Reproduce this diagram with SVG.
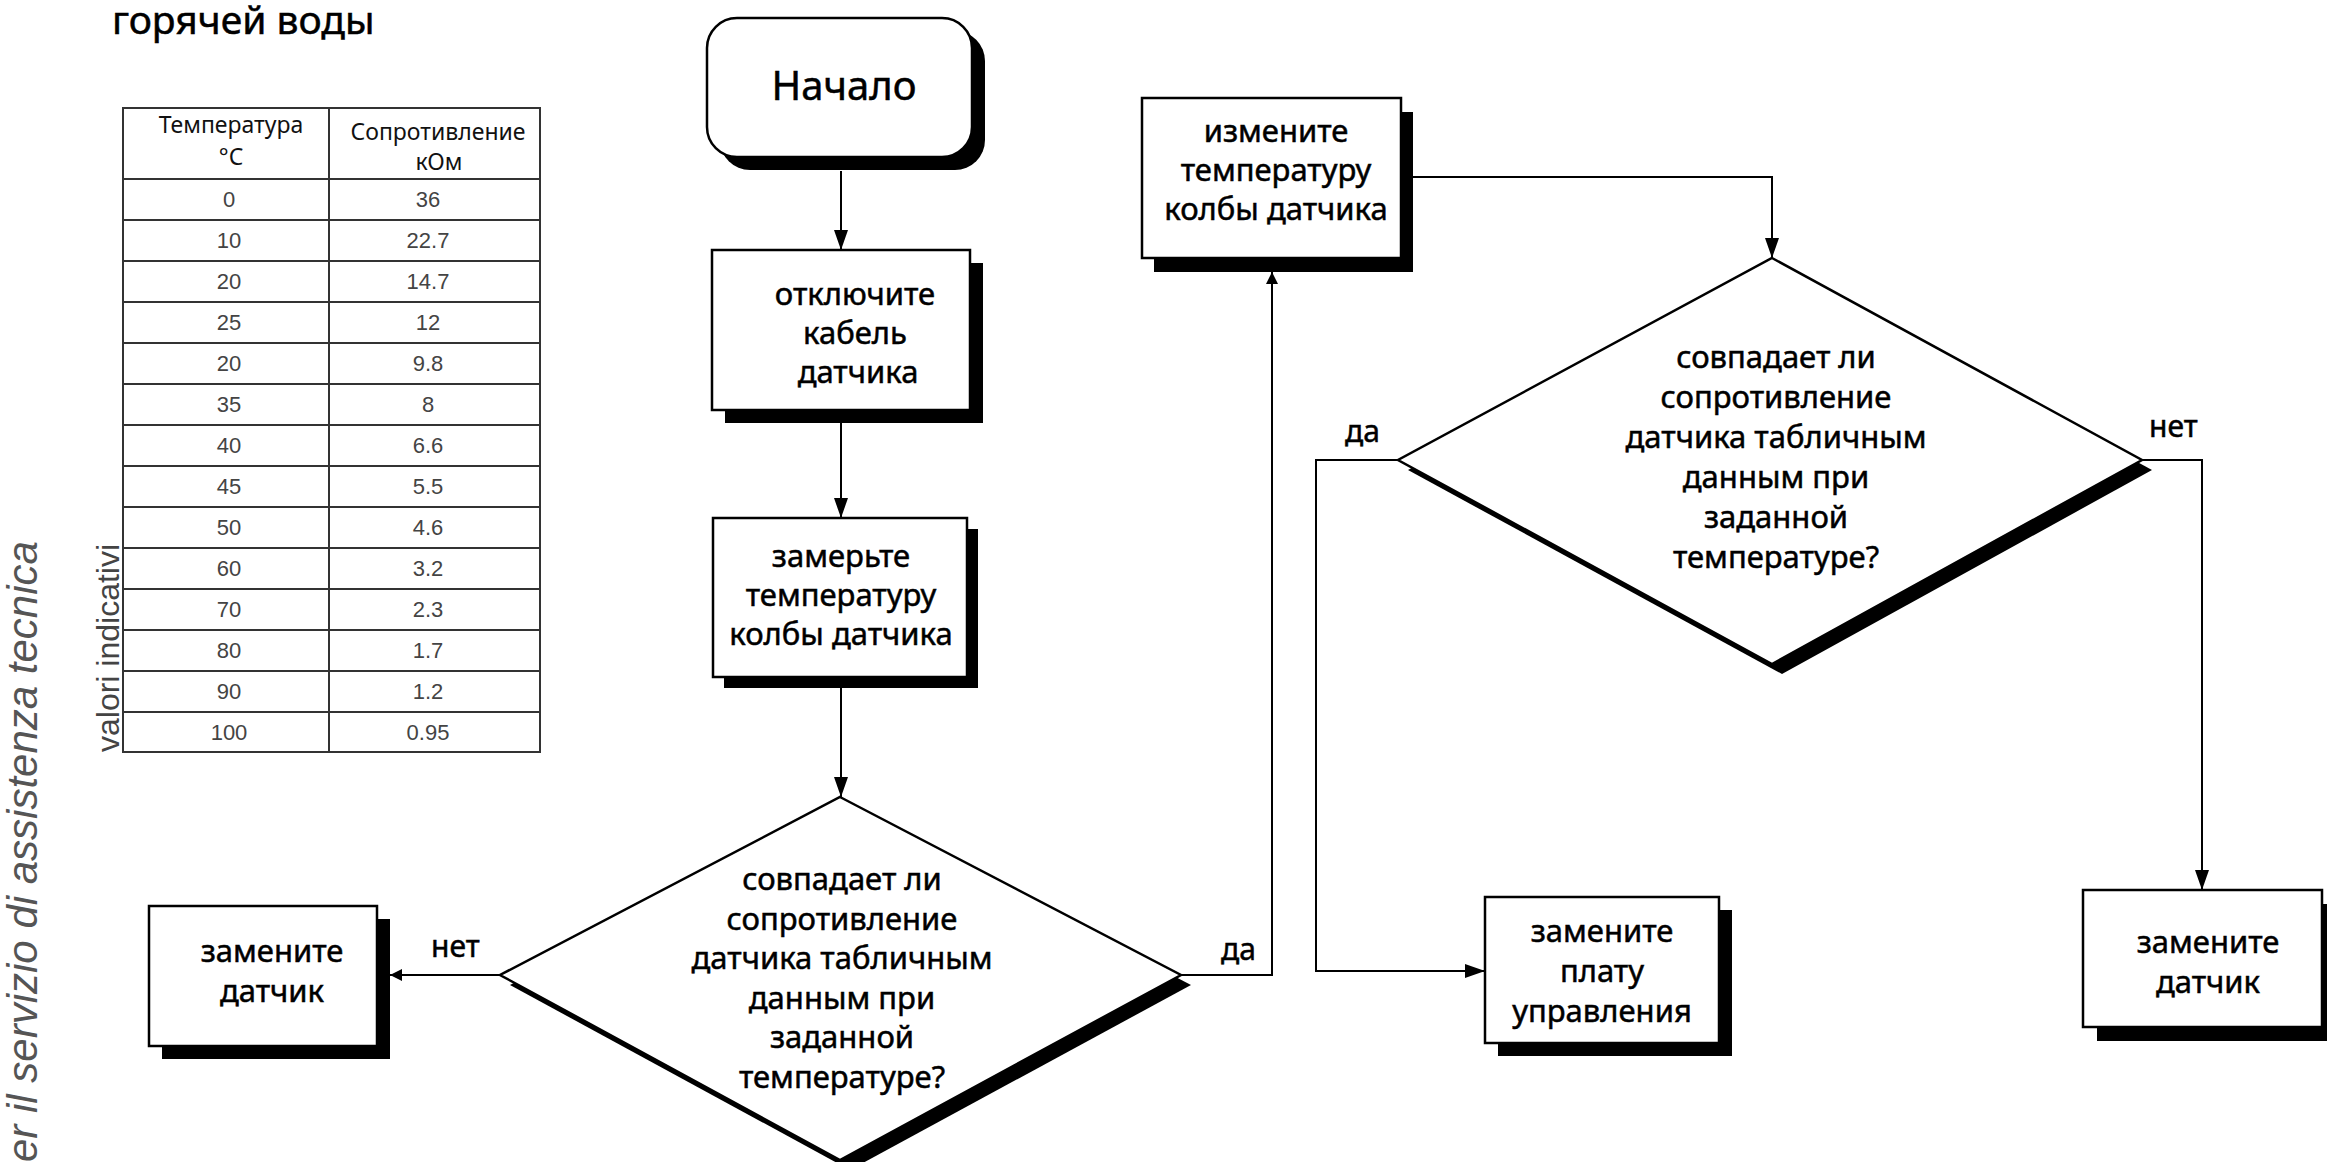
<svg xmlns="http://www.w3.org/2000/svg" width="2327" height="1162" viewBox="0 0 2327 1162">
<defs>
<style>
.t{font-family:"Noto Sans","DejaVu Sans",sans-serif;fill:#000;stroke:#000;stroke-width:0.5;text-anchor:middle}
.box{font-size:31px}
.dia{font-size:31px}
.lbl{font-family:"Noto Sans","DejaVu Sans",sans-serif;font-size:30px;fill:#000;stroke:#000;stroke-width:0.5}
.num{font-family:"Liberation Sans",Arial,sans-serif;font-size:22px;fill:#444;text-anchor:middle}
.hdr{font-family:"Noto Sans","DejaVu Sans",sans-serif;font-size:23px;fill:#111;text-anchor:middle}
.node{fill:#fff;stroke:#000;stroke-width:2.5}
.shadow{fill:#000;stroke:none}
.conn{fill:none;stroke:#000;stroke-width:2}
.grid{stroke:#333;stroke-width:2;fill:none}
</style>
<marker id="arr" markerUnits="userSpaceOnUse" markerWidth="20" markerHeight="14" viewBox="0 0 20 14" refX="20" refY="7" orient="auto">
<path d="M0,0 L20,7 L0,14 z" fill="#000"/>
</marker>
<marker id="arrs" markerUnits="userSpaceOnUse" markerWidth="12" markerHeight="12" viewBox="0 0 12 12" refX="12" refY="6" orient="auto">
<path d="M0,0 L12,6 L0,12 z" fill="#000"/>
</marker>
</defs>
<rect width="2327" height="1162" fill="#fff"/>

<!-- side texts -->
<text x="37" y="1162" transform="rotate(-90 37 1162)" font-family="Liberation Sans, Arial, sans-serif" font-style="italic" font-size="42" fill="#555">er il servizio di assistenza tecnica</text>
<text x="119" y="752" transform="rotate(-90 119 752)" font-family="Liberation Sans, Arial, sans-serif" font-size="32" fill="#444">valori indicativi</text>

<text x="112" y="34" font-family="Noto Sans, DejaVu Sans, sans-serif" font-size="39" fill="#000" stroke="#000" stroke-width="0.5">горячей воды</text>

<!-- table -->
<g id="table">
<rect class="grid" x="123" y="108" width="417" height="644"/>
<line class="grid" x1="329" y1="108" x2="329" y2="752"/>
<path class="grid" d="M123,179H540 M123,220H540 M123,261H540 M123,302H540 M123,343H540 M123,384H540 M123,425H540 M123,466H540 M123,507H540 M123,548H540 M123,589H540 M123,630H540 M123,671H540 M123,712H540"/>
<text class="hdr" x="231" y="133">Температура</text>
<text class="hdr" x="231" y="165">°C</text>
<text class="hdr" x="438" y="140">Сопротивление</text>
<text class="hdr" x="439" y="170">кОм</text>
<text class="num" x="229" y="207">0</text><text class="num" x="428" y="207">36</text>
<text class="num" x="229" y="248">10</text><text class="num" x="428" y="248">22.7</text>
<text class="num" x="229" y="289">20</text><text class="num" x="428" y="289">14.7</text>
<text class="num" x="229" y="330">25</text><text class="num" x="428" y="330">12</text>
<text class="num" x="229" y="371">20</text><text class="num" x="428" y="371">9.8</text>
<text class="num" x="229" y="412">35</text><text class="num" x="428" y="412">8</text>
<text class="num" x="229" y="453">40</text><text class="num" x="428" y="453">6.6</text>
<text class="num" x="229" y="494">45</text><text class="num" x="428" y="494">5.5</text>
<text class="num" x="229" y="535">50</text><text class="num" x="428" y="535">4.6</text>
<text class="num" x="229" y="576">60</text><text class="num" x="428" y="576">3.2</text>
<text class="num" x="229" y="617">70</text><text class="num" x="428" y="617">2.3</text>
<text class="num" x="229" y="658">80</text><text class="num" x="428" y="658">1.7</text>
<text class="num" x="229" y="699">90</text><text class="num" x="428" y="699">1.2</text>
<text class="num" x="229" y="740">100</text><text class="num" x="428" y="740">0.95</text>
</g>

<!-- connectors -->
<g id="connectors">
<path class="conn" d="M841,171 L841,250" marker-end="url(#arr)"/>
<path class="conn" d="M841,423 L841,518" marker-end="url(#arr)"/>
<path class="conn" d="M841,688 L841,797" marker-end="url(#arr)"/>
<path class="conn" d="M500,975 L390,975" marker-end="url(#arrs)"/>
<path class="conn" d="M1181,975 L1272,975 L1272,272" marker-end="url(#arrs)"/>
<path class="conn" d="M1413,177 L1772,177 L1772,258" marker-end="url(#arr)"/>
<path class="conn" d="M1398,460 L1316,460 L1316,971 L1485,971" marker-end="url(#arr)"/>
<path class="conn" d="M2142,460 L2202,460 L2202,890" marker-end="url(#arr)"/>
<text class="lbl" x="431" y="957">нет</text>
<text class="lbl" x="1221" y="960">да</text>
<text class="lbl" x="1345" y="442">да</text>
<text class="lbl" x="2149" y="437">нет</text>
</g>

<g id="start">
<rect class="shadow" x="720" y="31" width="265" height="139" rx="30"/>
<rect class="node" x="707" y="18" width="265" height="139" rx="30"/>
<text class="t" x="844" y="100" font-size="40">Начало</text>
</g>

<g id="disconnect">
<rect class="shadow" x="725" y="263" width="258" height="160"/>
<rect class="node" x="712" y="250" width="258" height="160"/>
<text class="t box" x="855" y="305">отключите</text>
<text class="t box" x="855" y="344">кабель</text>
<text class="t box" x="858" y="383">датчика</text>
</g>

<g id="measure">
<rect class="shadow" x="724" y="529" width="254" height="159"/>
<rect class="node" x="713" y="518" width="254" height="159"/>
<text class="t box" x="841" y="567">замерьте</text>
<text class="t box" x="841" y="606">температуру</text>
<text class="t box" x="841" y="645">колбы датчика</text>
</g>

<g id="decision1">
<polygon class="shadow" points="850,807 1191,985 850,1170 510,985"/>
<polygon class="node" points="840,797 1181,975 840,1160 500,975"/>
<text class="t dia" x="842" y="890">совпадает ли</text>
<text class="t dia" x="842" y="930">сопротивление</text>
<text class="t dia" x="842" y="969">датчика табличным</text>
<text class="t dia" x="842" y="1009">данным при</text>
<text class="t dia" x="842" y="1048">заданной</text>
<text class="t dia" x="842" y="1088">температуре?</text>
</g>

<g id="replace-sensor-left">
<rect class="shadow" x="162" y="919" width="228" height="140"/>
<rect class="node" x="149" y="906" width="228" height="140"/>
<text class="t box" x="272" y="962">замените</text>
<text class="t box" x="272" y="1002">датчик</text>
</g>

<g id="change-temp">
<rect class="shadow" x="1154" y="112" width="259" height="160"/>
<rect class="node" x="1142" y="98" width="259" height="160"/>
<text class="t box" x="1276" y="142">измените</text>
<text class="t box" x="1276" y="181">температуру</text>
<text class="t box" x="1276" y="220">колбы датчика</text>
</g>

<g id="decision2">
<polygon class="shadow" points="1782,268 2152,470 1782,674 1408,470"/>
<polygon class="node" points="1772,258 2142,460 1772,664 1398,460"/>
<text class="t dia" x="1776" y="368">совпадает ли</text>
<text class="t dia" x="1776" y="408">сопротивление</text>
<text class="t dia" x="1776" y="448">датчика табличным</text>
<text class="t dia" x="1776" y="488">данным при</text>
<text class="t dia" x="1776" y="528">заданной</text>
<text class="t dia" x="1776" y="568">температуре?</text>
</g>

<g id="replace-board">
<rect class="shadow" x="1498" y="910" width="234" height="146"/>
<rect class="node" x="1485" y="897" width="234" height="146"/>
<text class="t box" x="1602" y="942">замените</text>
<text class="t box" x="1602" y="982">плату</text>
<text class="t box" x="1602" y="1022">управления</text>
</g>

<g id="replace-sensor-right">
<rect class="shadow" x="2097" y="904" width="239" height="137"/>
<rect class="node" x="2083" y="890" width="239" height="137"/>
<text class="t box" x="2208" y="953">замените</text>
<text class="t box" x="2208" y="993">датчик</text>
</g>
</svg>
